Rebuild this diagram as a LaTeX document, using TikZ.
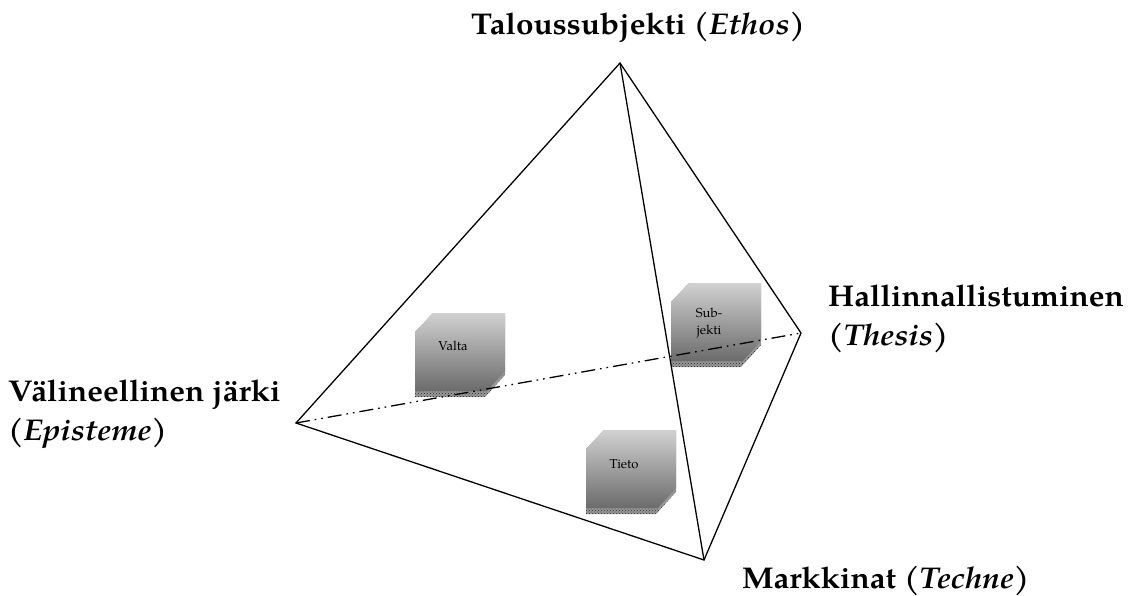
\documentclass[tikz,border=0pt]{standalone}
\usepackage{fontspec}
\setmainfont{TeX Gyre Pagella}
\newfontfamily\widepagella{TeX Gyre Pagella}[FakeStretch=1.05]
\usetikzlibrary{patterns}
\begin{document}
\begin{tikzpicture}[x=1pt,y=-1pt,
  edge/.style={line width=1.3pt, black},
  hidden/.style={line width=1.3pt, black,
    dash pattern=on 14pt off 5pt on 1.6pt off 5pt on 1.6pt off 5pt},
  vertexlabel/.style={font=\widepagella\fontsize{30}{38.5}\selectfont\bfseries,
    inner sep=0pt, align=left},
  boxtext/.style={font=\fontsize{13}{17}\selectfont, inner sep=0pt, align=center},
  pics/chamferbox/.style n args={3}{code={
    % textured base (bottom band and lower-right bevel)
    \fill[black!40] (0,19) -- (18,0) -- (90,0) -- (90,62) -- (70,84) -- (0,84) -- cycle;
    \fill[pattern=crosshatch dots, pattern color=black!85]
      (0,78) -- (74,78) -- (90,60) -- (90,62) -- (70,84) -- (0,84) -- cycle;
    % shaded front face
    \shade[top color=black!18, bottom color=black!58]
      (0,19) -- (18,0) -- (90,0) -- (90,58) -- (72,78) -- (0,78) -- cycle;
    \node[boxtext] (#1) at (38,#3) {#2};
  }}]
\useasboundingbox (0,0) rectangle (1132,596);

% vertices of the tetrahedron
\coordinate (apex) at (620,63);
\coordinate (left) at (296,423);
\coordinate (right) at (801,333);
\coordinate (bottom) at (704,560);

% boxes on the faces
\pic at (415,313) {chamferbox={valta}{Valta}{33}};
\pic at (586,430) {chamferbox={tieto}{Tieto}{34}};
\pic at (671,283) {chamferbox={subjekti}{Sub-\\jekti}{40}};

% edges
\draw[hidden] (left) -- (right);
\draw[edge, line join=miter] (apex) -- (left) -- (bottom) -- (right) -- cycle;
\draw[edge] (apex) -- (bottom);

% vertex labels (base anchor sits on the last line)
\node[vertexlabel, anchor=base] (ethos) at (638,35) {Taloussubjekti (\textit{Ethos})};
\node[vertexlabel, anchor=base west] (thesis) at (828,345)
  {Hallinnallistuminen\\(\textit{Thesis})};
\node[vertexlabel, anchor=base west] (episteme) at (8,440)
  {Välineellinen järki\\(\textit{Episteme})};
\node[vertexlabel, anchor=base west] (techne) at (742,588)
  {Markkinat (\textit{Techne})};
\end{tikzpicture}
\end{document}
